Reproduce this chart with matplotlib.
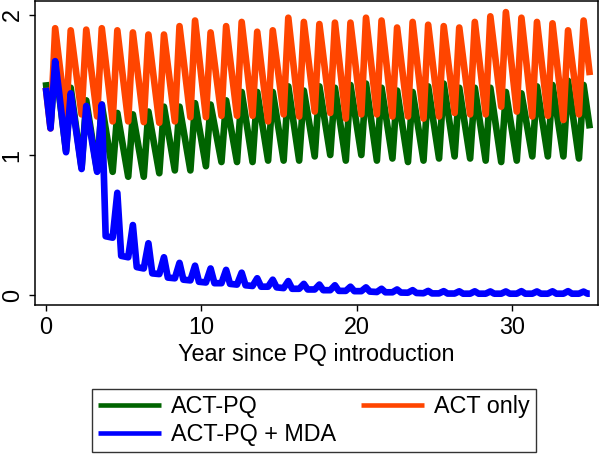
import numpy as np
import matplotlib.pyplot as plt

plt.rcParams['font.family'] = ['Liberation Sans', 'DejaVu Sans']

# values: one trough (~k+0.3) and one peak (~k+0.6) per year k = 0..34
n_years = 35

act_pq_start, act_pq_end = 1.52, 1.19
act_pq_trough = [1.21, 1.03, 0.91, 0.89, 0.88, 0.845, 0.845, 0.87, 0.89, 0.89,
                 0.92, 0.95, 0.95, 0.95, 0.96, 0.96, 0.96, 0.99, 1.00, 0.96,
                 1.00, 0.96, 0.975, 0.95, 0.96, 0.975, 0.99, 0.975, 0.96, 0.95,
                 0.96, 0.99, 0.99, 0.99, 0.975]
act_pq_peak = [1.66, 1.48, 1.39, 1.36, 1.30, 1.29, 1.31, 1.345, 1.345, 1.37,
               1.36, 1.39, 1.45, 1.45, 1.45, 1.49, 1.46, 1.49, 1.48, 1.50,
               1.51, 1.48, 1.46, 1.45, 1.49, 1.51, 1.48, 1.48, 1.48, 1.45,
               1.44, 1.49, 1.50, 1.53, 1.50]

act_only_start, act_only_end = 1.48, 1.57
act_only_trough = [1.19, 1.26, 1.29, 1.275, 1.24, 1.24, 1.235, 1.23, 1.24, 1.27,
                   1.27, 1.28, 1.28, 1.28, 1.24, 1.29, 1.275, 1.31, 1.30, 1.26,
                   1.29, 1.29, 1.275, 1.275, 1.26, 1.275, 1.30, 1.29, 1.29, 1.345,
                   1.31, 1.275, 1.28, 1.25, 1.29]
act_only_peak = [1.905, 1.89, 1.895, 1.905, 1.89, 1.875, 1.86, 1.86, 1.92, 1.96,
                 1.875, 1.92, 1.95, 1.88, 1.89, 1.98, 1.95, 1.935, 1.945, 1.945,
                 1.98, 1.96, 1.91, 1.95, 1.93, 1.92, 1.91, 1.95, 1.99, 2.02,
                 1.98, 1.95, 1.94, 1.89, 1.96]

# MDA arm also has a shoulder point (~k+0.85) after each spike
mda_start, mda_end = 1.48, 0.01
mda_trough = [1.19, 1.02, 0.90, 0.88, 0.41, 0.27, 0.19, 0.15, 0.12, 0.105,
              0.09, 0.085, 0.075, 0.065, 0.06, 0.05, 0.045, 0.04, 0.035, 0.03,
              0.028, 0.022, 0.02, 0.017, 0.013, 0.012, 0.011, 0.01, 0.01, 0.01,
              0.01, 0.01, 0.01, 0.01, 0.01]
mda_peak = [1.67, 1.44, 1.35, 1.36, 0.73, 0.50, 0.37, 0.27, 0.23, 0.21,
            0.19, 0.18, 0.16, 0.12, 0.11, 0.10, 0.08, 0.075, 0.07, 0.06,
            0.055, 0.045, 0.04, 0.035, 0.03, 0.028, 0.027, 0.027, 0.026, 0.026,
            0.028, 0.026, 0.027, 0.028, 0.025]
mda_shoulder = [1.45, 1.25, 1.18, 0.42, 0.28, 0.20, 0.155, 0.125, 0.11, 0.095,
                0.085, 0.08, 0.07, 0.06, 0.055, 0.045, 0.04, 0.035, 0.03, 0.028,
                0.025, 0.02, 0.018, 0.015, 0.012, 0.011, 0.01, 0.01, 0.01, 0.01,
                0.01, 0.01, 0.01, 0.01, 0.01]


def series(start, trough, peak, end, shoulder=None):
    t, y = [0.0], [start]
    for k in range(n_years):
        t += [k + 0.3, k + 0.6]
        y += [trough[k], peak[k]]
        if shoulder is not None:
            t.append(k + 0.85)
            y.append(shoulder[k])
    t.append(n_years)
    y.append(end)
    return t, y


fig = plt.figure(figsize=(6, 4.58), dpi=100)
ax = fig.add_axes([0.058, 0.334, 0.939, 0.664])

style = dict(lw=4.8, solid_joinstyle='round', solid_capstyle='butt')
l1, = ax.plot(*series(act_pq_start, act_pq_trough, act_pq_peak, act_pq_end),
              color='#006400', label='ACT-PQ', **style)
l3, = ax.plot(*series(act_only_start, act_only_trough, act_only_peak, act_only_end),
              color='#ff4500', label='ACT only', **style)
l2, = ax.plot(*series(mda_start, mda_trough, mda_peak, mda_end, mda_shoulder),
              color='#0000ff', label='ACT-PQ + MDA', **style)

ax.set_xlim(-0.71, 35.54)
ax.set_ylim(-0.071, 2.1)
ax.set_xticks([0, 10, 20, 30])
ax.set_yticks([0, 1, 2])
ax.set_yticklabels(['0', '1', '2'], rotation=90, va='center')
ax.tick_params(direction='out', length=4, width=1, labelsize=16.8, pad=4)
for s in ax.spines.values():
    s.set_linewidth(1.1)
ax.set_xlabel('Year since PQ introduction', fontsize=16.8, labelpad=3)

leg = fig.legend(handles=[l1, l2, l3], ncol=2, loc='upper left',
                 bbox_to_anchor=(92 / 600, 1 - 389 / 458), fontsize=16.8,
                 frameon=True, fancybox=False, edgecolor='black',
                 handlelength=2.7, handletextpad=0.45, columnspacing=1.05,
                 borderpad=0.25, labelspacing=0.22, borderaxespad=0)
leg.get_frame().set_linewidth(1.0)
for ln in leg.get_lines():
    ln.set_linewidth(3.3)

fig.savefig('out.png', dpi=100)
